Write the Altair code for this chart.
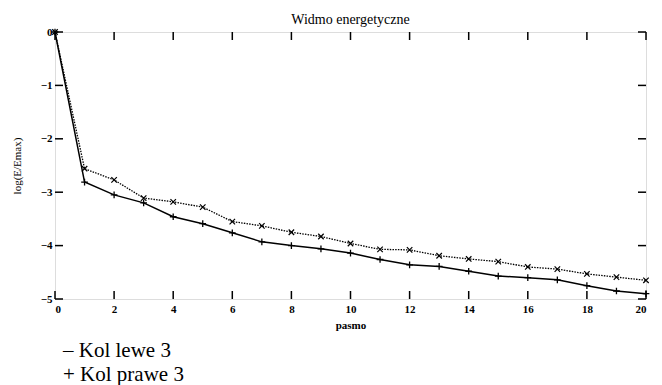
import altair as alt
import pandas as pd

pasmo = list(range(0, 21))
kol_prawe = [0, -2.81, -3.05, -3.20, -3.46, -3.59, -3.76, -3.93, -4.00, -4.06, -4.14,
             -4.26, -4.36, -4.39, -4.48, -4.57, -4.60, -4.64, -4.75, -4.85, -4.90]
kol_lewe = [0, -2.56, -2.77, -3.11, -3.18, -3.28, -3.55, -3.63, -3.75, -3.83, -3.96,
            -4.07, -4.08, -4.19, -4.25, -4.30, -4.40, -4.44, -4.53, -4.59, -4.65]
x_ticks = [0, 2, 4, 6, 8, 10, 12, 14, 16, 18, 20]
y_ticks = [0, -1, -2, -3, -4, -5]
legend_lines = ["– Kol lewe 3", "+ Kol prawe 3"]

W, H = 591, 267
SERIF = "Liberation Serif"

df_p = pd.DataFrame({"pasmo": pasmo, "v": kol_prawe})
df_l = pd.DataFrame({"pasmo": pasmo, "v": kol_lewe})
df_xt = pd.DataFrame({"t": x_ticks})
df_yt = pd.DataFrame({"t": y_ticks})

xs = alt.Scale(domain=[0, 20], nice=False, zero=False)
ys = alt.Scale(domain=[-5, 0], nice=False, zero=False)

x_axis = alt.Axis(values=x_ticks, title="pasmo", grid=False, ticks=False, domain=False,
                  labelFont=SERIF, labelFontSize=11, labelFontWeight="bold", labelPadding=4,
                  titleFont=SERIF, titleFontSize=11, titleFontWeight="bold", titlePadding=5,
                  labelColor="black", titleColor="black")
y_axis = alt.Axis(values=y_ticks, title="log(E/Emax)", grid=False, ticks=False, domain=False,
                  labelFont=SERIF, labelFontSize=11, labelFontWeight="bold", labelPadding=3,
                  titleFont=SERIF, titleFontSize=11, titleFontWeight="normal", titlePadding=18,
                  labelColor="black", titleColor="black")

line_p = alt.Chart(df_p).mark_line(color="black", strokeWidth=1.5).encode(
    x=alt.X("pasmo:Q", scale=xs, axis=x_axis),
    y=alt.Y("v:Q", scale=ys, axis=y_axis),
)
pts_p = alt.Chart(df_p).mark_point(shape="M-1,0L1,0M0,-1L0,1", filled=False, color="black",
                                   size=45, strokeWidth=1.3, opacity=1).encode(
    x=alt.X("pasmo:Q", scale=xs), y=alt.Y("v:Q", scale=ys))
line_l = alt.Chart(df_l).mark_line(color="black", strokeWidth=1.3, strokeDash=[1.5, 1.2]).encode(
    x=alt.X("pasmo:Q", scale=xs), y=alt.Y("v:Q", scale=ys))
pts_l = alt.Chart(df_l).mark_point(shape="M-1,-1L1,1M-1,1L1,-1", filled=False, color="black",
                                   size=30, strokeWidth=1.2, opacity=1).encode(
    x=alt.X("pasmo:Q", scale=xs), y=alt.Y("v:Q", scale=ys))

tick_len = 8
xt_bottom = alt.Chart(df_xt).mark_rule(color="black", strokeWidth=1.5).encode(
    x=alt.X("t:Q", scale=xs), y=alt.value(H), y2=alt.value(H - tick_len))
xt_top = alt.Chart(df_xt).mark_rule(color="black", strokeWidth=1.5).encode(
    x=alt.X("t:Q", scale=xs), y=alt.value(0), y2=alt.value(tick_len))
yt_left = alt.Chart(df_yt).mark_rule(color="black", strokeWidth=1.5).encode(
    y=alt.Y("t:Q", scale=ys), x=alt.value(0), x2=alt.value(tick_len))
yt_right = alt.Chart(df_yt).mark_rule(color="black", strokeWidth=1.5).encode(
    y=alt.Y("t:Q", scale=ys), x=alt.value(W), x2=alt.value(W - tick_len))

leg1 = alt.Chart(pd.DataFrame({"s": [legend_lines[0]]})).mark_text(
    font=SERIF, fontSize=21, align="left", baseline="alphabetic", color="black").encode(
    text="s:N", x=alt.value(8), y=alt.value(325))
leg2 = alt.Chart(pd.DataFrame({"s": [legend_lines[1]]})).mark_text(
    font=SERIF, fontSize=21, align="left", baseline="alphabetic", color="black").encode(
    text="s:N", x=alt.value(8), y=alt.value(349))

chart = alt.layer(line_p, line_l, pts_p, pts_l, xt_bottom, xt_top, yt_left, yt_right, leg1, leg2).properties(
    width=W, height=H,
    title=alt.TitleParams("Widmo energetyczne", font=SERIF, fontSize=14, fontWeight="normal",
                          color="black", anchor="middle", offset=-1, frame="group"),
    autosize=alt.AutoSizeParams(type="none"),
    padding={"left": 47, "top": 24, "right": 8, "bottom": 86},
).configure_view(stroke="black", strokeWidth=1.5).configure(background="white")

chart.save("out.html", embed_options={"renderer": "svg", "actions": False})
